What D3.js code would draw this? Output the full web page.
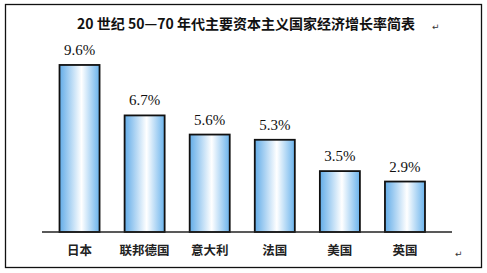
<!DOCTYPE html>
<html>
<head>
<meta charset="utf-8">
<script src="https://cdn.jsdelivr.net/npm/d3@7"></script>
<style>
  body { margin: 0; background: #fff; }
</style>
</head>
<body>
<div class="chart"></div>
<script>
  const countries = ["日本", "联邦德国", "意大利", "法国", "美国", "英国"];
  const rates = [9.6, 6.7, 5.6, 5.3, 3.5, 2.9];
  const rateLabels = ["9.6%", "6.7%", "5.6%", "5.3%", "3.5%", "2.9%"];
  const title = "20 世纪 50—70 年代主要资本主义国家经济增长率简表";

  const width = 487;
  const height = 273;

  const svg = d3.select('.chart')
    .append("svg")
    .attr("width", width)
    .attr("height", height);

  // frame round the whole picture
  svg.append("rect")
    .attr("x", 5.5).attr("y", 4.5)
    .attr("width", 476).attr("height", 263)
    .attr("fill", "none")
    .attr("stroke", "#111")
    .attr("stroke-width", 1.3);

  const grad = svg.append("defs").append("linearGradient")
    .attr("id", "barGrad")
    .attr("x1", "0%").attr("x2", "100%")
    .attr("y1", "0%").attr("y2", "0%");
  grad.append("stop").attr("offset", "0%").attr("stop-color", "#62ace8");
  grad.append("stop").attr("offset", "55%").attr("stop-color", "#ffffff");
  grad.append("stop").attr("offset", "100%").attr("stop-color", "#6ab3ec");

  const x = d3.scaleBand()
    .domain(countries)
    .range([46.5, 438])
    .paddingInner(0.385)
    .paddingOuter(0.2);

  const y = d3.scaleLinear()
    .domain([0, 10])
    .range([232, 58]);

  const data = countries.map((c, i) => ({ country: c, rate: rates[i], label: rateLabels[i] }));

  svg.selectAll("rect.bar")
    .data(data)
    .enter()
    .append("rect")
    .attr("class", "bar")
    .attr("x", d => x(d.country))
    .attr("y", d => y(d.rate))
    .attr("width", x.bandwidth())
    .attr("height", d => y(0) - y(d.rate))
    .attr("fill", "url(#barGrad)")
    .attr("stroke", "#111")
    .attr("stroke-width", 1.8);

  // baseline
  svg.append("line")
    .attr("x1", 42).attr("x2", 452)
    .attr("y1", y(0)).attr("y2", y(0))
    .attr("stroke", "#222")
    .attr("stroke-width", 1.3);

  svg.selectAll(".value-label")
    .data(data)
    .enter()
    .append("text")
    .attr("class", "value-label")
    .attr("x", d => x(d.country) + x.bandwidth() / 2)
    .attr("y", d => y(d.rate) - 10)
    .attr("text-anchor", "middle")
    .attr("font-family", "'Liberation Serif', serif")
    .attr("font-size", "15px")
    .attr("fill", "#111")
    .text(d => d.label);

  svg.selectAll(".category-label")
    .data(data)
    .enter()
    .append("text")
    .attr("class", "category-label")
    .attr("x", d => x(d.country) + x.bandwidth() / 2)
    .attr("y", 255)
    .attr("text-anchor", "middle")
    .attr("font-family", "'Noto Sans CJK SC', sans-serif")
    .attr("font-size", "12.5px")
    .attr("font-weight", "bold")
    .attr("fill", "#222")
    .text(d => d.country);

  svg.append("text")
    .attr("x", 246)
    .attr("y", 29)
    .attr("text-anchor", "middle")
    .attr("font-family", "'Noto Sans CJK SC', sans-serif")
    .attr("font-size", "14px")
    .attr("font-weight", "bold")
    .attr("fill", "#111")
    .text(title);

  // paragraph marks
  svg.append("text")
    .attr("x", 432).attr("y", 30)
    .attr("font-size", "9px")
    .attr("font-family", "'DejaVu Sans', sans-serif")
    .attr("fill", "#333")
    .text("↵");
  svg.append("text")
    .attr("x", 455).attr("y", 257)
    .attr("font-size", "9px")
    .attr("font-family", "'DejaVu Sans', sans-serif")
    .attr("fill", "#333")
    .text("↵");
</script>
</body>
</html>
